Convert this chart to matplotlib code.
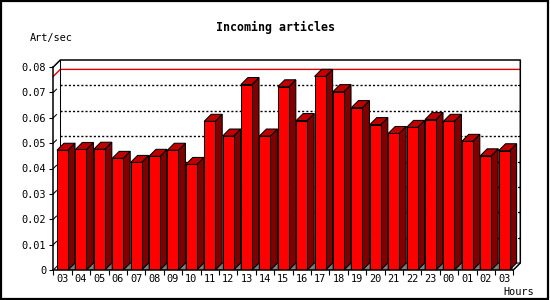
import numpy as np
import matplotlib
matplotlib.use('Agg')
import matplotlib.pyplot as plt
from matplotlib.patches import Polygon, Rectangle

hours = ['03', '04', '05', '06', '07', '08', '09', '10', '11', '12', '13', '14', '15',
         '16', '17', '18', '19', '20', '21', '22', '23', '00', '01', '02', '03']
rates = [0.0472, 0.0475, 0.0476, 0.0440, 0.0424, 0.0448, 0.0472, 0.0416, 0.0586, 0.0528,
         0.0731, 0.0528, 0.0722, 0.0589, 0.0763, 0.0703, 0.0640, 0.0573, 0.0538, 0.0562,
         0.0593, 0.0586, 0.0507, 0.0450, 0.0470]
yticks = [0, 0.01, 0.02, 0.03, 0.04, 0.05, 0.06, 0.07, 0.08]
ytick_labels = ['0', '0.01', '0.02', '0.03', '0.04', '0.05', '0.06', '0.07', '0.08']

plt.rcParams['font.family'] = ['DejaVu Sans Mono']

fig = plt.figure(figsize=(5.5, 3), dpi=100)
W, H = 550, 300
ax = fig.add_axes([53.3 / W, 30 / H, 460 / W, 203 / H])
n = len(rates)
ymax = 0.08
ax.set_xlim(0, n)
ax.set_ylim(0, ymax)

# depth of the fake 3d, in data units (about 7 px)
DX = 7 / (460 / n)
DY = 7 / (203 / ymax)

front_c = '#ff0000'
side_c = '#800000'
top_c = '#c00000'
shadow_c = '#808080'
lw = 0.75

# back wall: frame, grid, max line
bx0, bx1 = DX, n + DX
for v in yticks[1:-1]:
    ax.plot([bx0, bx1], [v + DY, v + DY], color='black', lw=1, ls=(0, (1.5, 1.5)), zorder=1, clip_on=False)
    ax.plot([bx1 - 0.15, bx1], [v + DY, v + DY], color='black', lw=lw, zorder=1, clip_on=False)
    ax.plot([0, DX * 0.45], [v, v + DY * 0.45], color='black', lw=lw, zorder=1, clip_on=False)
peak = max(rates)
ax.plot([0, bx0, bx1], [peak, peak + DY, peak + DY], color='#e00000', lw=1, zorder=1.5, clip_on=False)
ax.plot([0, bx0, bx1, bx1, n], [ymax, ymax + DY, ymax + DY, DY, 0], color='black', lw=1.1, zorder=1.6, clip_on=False)
ax.plot([bx0, bx0], [DY, ymax + DY], color='black', lw=lw, zorder=1.6, clip_on=False)
ax.plot([0, bx0, bx1], [0, DY, DY], color='black', lw=lw, zorder=1.6, clip_on=False)

# bars
x = np.arange(n)
left = x + 0.2
width = 0.6
ax.bar(left, rates, width=width, align='edge', color=front_c, edgecolor='black', linewidth=lw, zorder=3)
for x0, v in zip(left, rates):
    x1 = x0 + width
    ax.add_patch(Polygon([(x1, 0), (x1 + DX, DY), (x1 + DX, 0)], closed=True,
                         facecolor=shadow_c, edgecolor='black', linewidth=0.4, zorder=2))
    ax.add_patch(Polygon([(x1, 0), (x1, v), (x1 + DX, v + DY), (x1 + DX, DY)], closed=True,
                         facecolor=side_c, edgecolor='black', linewidth=lw, zorder=2.5, clip_on=False))
    ax.add_patch(Polygon([(x0, v), (x0 + DX, v + DY), (x1 + DX, v + DY), (x1, v)], closed=True,
                         facecolor=top_c, edgecolor='black', linewidth=lw, zorder=2.5, clip_on=False))

# axes
for s in ['top', 'right']:
    ax.spines[s].set_visible(False)
for s in ['left', 'bottom']:
    ax.spines[s].set_linewidth(1.1)
    ax.spines[s].set_zorder(4)
ax.patch.set_visible(False)
ax.set_yticks(yticks)
ax.set_yticklabels(ytick_labels, fontsize=7.4)
ax.tick_params(axis='y', length=3, width=0.8, pad=2)
ax.set_xticks(np.arange(n + 1))
ax.set_xticklabels([])
ax.set_xticks(x + 0.5, minor=True)
ax.set_xticklabels(hours, minor=True, fontsize=7.4)
ax.tick_params(axis='x', which='major', length=3.5, width=0.8)
ax.tick_params(axis='x', which='minor', length=0, pad=3)

fig.text(275 / W, 1 - 27 / H, 'Incoming articles', ha='center', va='center', fontsize=8.4, fontweight='bold')
fig.text(30 / W, 1 - 38 / H, 'Art/sec', ha='left', va='center', fontsize=7.4)
fig.text(534 / W, 1 - 292 / H, 'Hours', ha='right', va='center', fontsize=7.4)

fig.patches.append(Rectangle((0.001, 0.002), 0.996, 0.995, transform=fig.transFigure,
                             fill=False, edgecolor='black', linewidth=1.6))

fig.savefig('out.png', dpi=100)
